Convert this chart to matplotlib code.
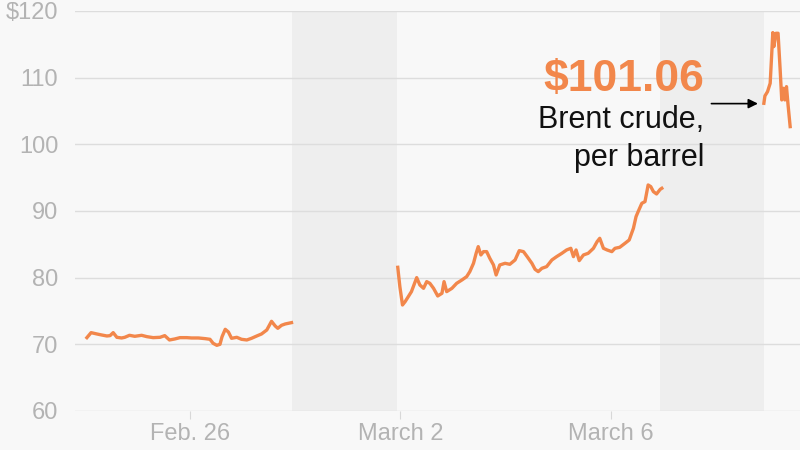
import matplotlib.pyplot as plt

# days counted from Feb. 26 00:00
x1 = [-1.96, -1.88, -1.77, -1.68, -1.58, -1.52, -1.46, -1.39, -1.30, -1.24, -1.15, -1.05,
      -0.92, -0.82, -0.70, -0.57, -0.48, -0.39, -0.29, -0.19, -0.06, 0.03, 0.16, 0.29,
      0.38, 0.44, 0.51, 0.57, 0.61, 0.67, 0.73, 0.79, 0.89, 0.98, 1.08, 1.17, 1.27,
      1.36, 1.46, 1.55, 1.62, 1.67, 1.74, 1.81, 1.93]
y1 = [71.0, 71.75, 71.55, 71.4, 71.25, 71.3, 71.75, 71.05, 70.95, 71.05, 71.35, 71.2,
      71.35, 71.15, 71.0, 71.05, 71.3, 70.65, 70.8, 71.0, 71.0, 70.95, 70.95, 70.85,
      70.75, 70.15, 69.85, 70.0, 71.15, 72.25, 71.85, 70.9, 71.05, 70.75, 70.65, 70.9, 71.25,
      71.55, 72.15, 73.45, 72.75, 72.4, 72.85, 73.05, 73.25]

x2 = [3.95, 3.99, 4.04, 4.09, 4.15, 4.21, 4.31, 4.37, 4.44, 4.50, 4.56, 4.63, 4.71, 4.79,
      4.83, 4.88, 4.98, 5.07, 5.17, 5.26, 5.32, 5.39, 5.44, 5.48, 5.53, 5.58, 5.64, 5.70,
      5.77, 5.82, 5.89, 5.99, 6.08, 6.18, 6.26, 6.34, 6.41, 6.50, 6.56, 6.62, 6.69, 6.78,
      6.88, 6.97, 7.07, 7.16, 7.24, 7.29, 7.34, 7.40, 7.48, 7.57, 7.67, 7.74, 7.79, 7.86,
      7.93, 8.02, 8.08, 8.17, 8.27, 8.35, 8.43, 8.48, 8.52, 8.59, 8.65, 8.71, 8.76, 8.81,
      8.87, 8.94, 8.97]
y2 = [81.55, 78.65, 75.9, 76.4, 77.15, 77.9, 80.0, 78.9, 78.4, 79.4, 79.15, 78.4, 77.25, 77.65,
      79.4, 77.9, 78.4, 79.15, 79.65, 80.15, 80.9, 82.15, 83.65, 84.65, 83.4, 83.9, 83.9, 82.9,
      81.9, 80.4, 81.9, 82.15, 82.0, 82.65, 84.05, 83.9, 83.15, 82.15, 81.25, 80.9, 81.4, 81.65,
      82.65, 83.15, 83.65, 84.15, 84.4, 83.15, 84.15, 82.55, 83.4, 83.65, 84.4, 85.4, 85.9, 84.4,
      84.15, 83.9, 84.4, 84.55, 85.15, 85.65, 87.4, 89.15, 89.9, 91.15, 91.4, 93.9, 93.65, 92.9,
      92.55, 93.25, 93.4]

x3 = [10.91, 10.93, 10.98, 11.03, 11.06, 11.08, 11.10, 11.14, 11.18, 11.22, 11.25, 11.28,
      11.31, 11.34, 11.37, 11.41]
y3 = [106.15, 107.25, 107.9, 109.15, 113.65, 116.75, 114.65, 116.65, 116.65, 111.15, 106.65,
      108.4, 106.65, 108.65, 105.9, 102.65]

weekends = [(1.94, 3.94), (8.94, 10.91)]
xticks = [0, 4, 8]
xticklabels = ["Feb. 26", "March 2", "March 6"]
yticks = [60, 70, 80, 90, 100, 110, 120]
yticklabels = ["60", "70", "80", "90", "100", "110", "$120"]

orange = "#f2874b"
gray = "#b3b3b3"
bg = "#f8f8f8"

plt.rcParams['font.family'] = ['Liberation Sans', 'DejaVu Sans']

fig = plt.figure(figsize=(8, 4.5), dpi=100, facecolor=bg)
ax = fig.add_axes([0.09375, 0.0867, 0.90625, 0.889])
ax.set_facecolor(bg)

for a, b in weekends:
    ax.axvspan(a, b, color="#eeeeee", lw=0, zorder=0)

for x, y in [(x1, y1), (x2, y2), (x3, y3)]:
    ax.plot(x, y, color=orange, lw=2.4, solid_joinstyle="round", zorder=3)

ax.set_xlim(-2.186, 11.597)
ax.set_ylim(60, 120)
ax.set_yticks(yticks)
ax.set_yticklabels(yticklabels)
ax.set_xticks(xticks)
ax.set_xticklabels(xticklabels)
ax.grid(axis="y", color="#dddddd", lw=1, zorder=1)
for s in ax.spines.values():
    s.set_visible(False)
ax.tick_params(axis="y", length=0, pad=12, labelsize=17, labelcolor=gray)
ax.tick_params(axis="x", length=6, width=0.8, color="#d8d8d8", pad=3, labelsize=17, labelcolor=gray)

ax.text(9.78, 109.65, "$101.06", color=orange, fontsize=32, fontweight="bold",
        ha="right", va="center")
ax.text(9.78, 103.6, "Brent crude,", color="#111111", fontsize=22, ha="right", va="center")
ax.text(9.78, 98.0, "per barrel", color="#111111", fontsize=22, ha="right", va="center")
ax.annotate("", xy=(10.85, 106.1), xytext=(9.86, 106.1),
            arrowprops=dict(arrowstyle="-|>", color="black", lw=1.2, mutation_scale=14))

fig.savefig("out.png", dpi=100, facecolor=bg)
